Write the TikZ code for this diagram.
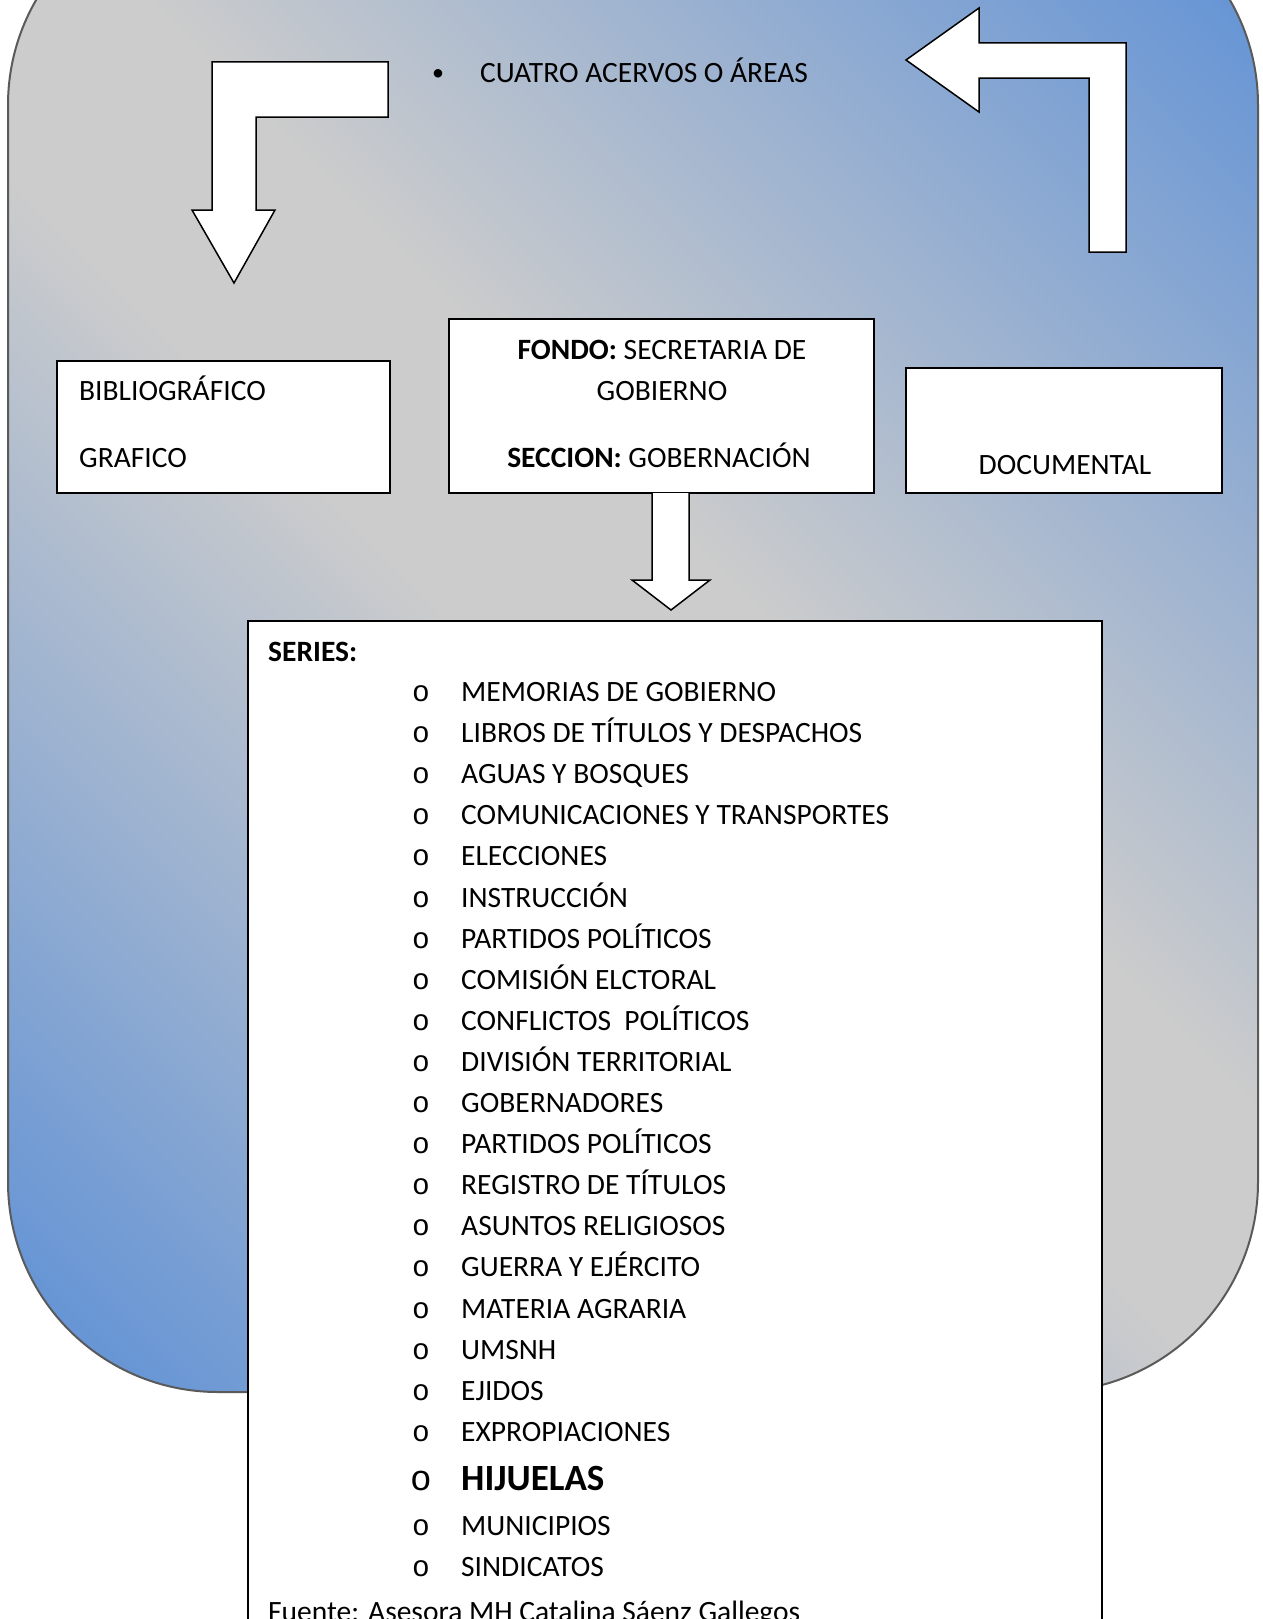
\documentclass[tikz,border=0pt]{standalone}
\usepackage{fontspec}
\setmainfont{Carlito}
\newfontfamily\monof{Liberation Mono}
\definecolor{bblue}{RGB}{93,144,214}
\definecolor{bgray}{RGB}{204,204,204}
\definecolor{edgegray}{RGB}{90,90,90}
\pgfdeclarehorizontalshading{bgshade}{100bp}{color(0bp)=(bblue); color(15bp)=(bblue); color(46bp)=(bgray); color(54bp)=(bgray); color(85bp)=(bblue); color(100bp)=(bblue)}
\begin{document}
\begin{tikzpicture}[x=1pt,y=-1pt,
  blockarrow/.style={fill=white,draw=black,line width=1.5pt,line join=miter},
  box/.style={draw=black,fill=white,line width=2pt,inner sep=0pt},
  txt/.style={inner sep=0pt,font=\fontsize{29.5}{35}\selectfont},
  bul/.style={inner sep=0pt,font=\monof\fontsize{29.5}{35}\selectfont}]
\useasboundingbox (0,0) rectangle (1262,1619);
% background rounded panel
\shadedraw[shading=bgshade, shading angle=45, draw=edgegray, line width=2pt, rounded corners=210pt] (8,-105) rectangle (1258,1392);
% bent arrows
\draw[blockarrow] (388,62) -- (212,62) -- (212,210) -- (192,210) -- (234,283) -- (275,210) -- (256,210) -- (256,117) -- (388,117) -- cycle;
\draw[blockarrow] (1126,43) -- (979,43) -- (979,8) -- (906,60) -- (979,112) -- (979,78) -- (1089,78) -- (1089,252) -- (1126,252) -- cycle;
% top label
\node[inner sep=0pt, anchor=base, font=\fontsize{24}{28}\selectfont] (dot) at (438,81) {•};
\node[txt, anchor=base west] (cuatro) at (480,82) {CUATRO ACERVOS O ÁREAS};
% boxes
\node[box, minimum width=333pt, minimum height=132pt] (biblio) at (223.5,427) {};
\node[box, minimum width=425pt, minimum height=174pt] (fondo) at (661.5,406) {};
\node[box, minimum width=316pt, minimum height=125pt] (docum) at (1064,430.5) {};
\node[txt, anchor=base west] (tbib) at (79,400) {BIBLIOGRÁFICO};
\node[txt, anchor=base west] (tgraf) at (79,467) {GRAFICO};
\node[txt, anchor=base] (tf1) at (662,359) {\textbf{FONDO:} SECRETARIA DE};
\node[txt, anchor=base] (tf2) at (662,400) {GOBIERNO};
\node[txt, anchor=base] (tf3) at (659,467) {\textbf{SECCION:} GOBERNACIÓN};
\node[txt, anchor=base] (tdoc) at (1065,474) {DOCUMENTAL};
% down arrow
\coordinate (dl) at (652,493);
\coordinate (dr) at (689,493);
\draw[blockarrow] (dl) -- (652,580) -- (632,580) -- (671,610) -- (710,580) -- (689,580) -- (dr);
% series box
\node[draw=black, fill=white, line width=2.5pt, inner sep=0pt, minimum width=854pt, minimum height=1081pt] (series) at (675,1161.5) {};
\node[txt, anchor=base west] (tser) at (268,661) {\textbf{SERIES:}};
\foreach \t [count=\i from 0] in {MEMORIAS DE GOBIERNO, LIBROS DE TÍTULOS Y DESPACHOS, AGUAS Y BOSQUES, COMUNICACIONES Y TRANSPORTES, ELECCIONES, INSTRUCCIÓN, PARTIDOS POLÍTICOS, COMISIÓN ELCTORAL, CONFLICTOS\ \ POLÍTICOS, DIVISIÓN TERRITORIAL, GOBERNADORES, PARTIDOS POLÍTICOS, REGISTRO DE TÍTULOS, ASUNTOS RELIGIOSOS, GUERRA Y EJÉRCITO, MATERIA AGRARIA, UMSNH, EJIDOS, EXPROPIACIONES}{
  \node[bul, anchor=base] (b\i) at (421,701.5+41.1*\i) {o};
  \node[txt, anchor=base west] (it\i) at (461,701.5+41.1*\i) {\t};
}
\node[inner sep=0pt, anchor=base, font=\monof\fontsize{36}{40}\selectfont] (bh) at (421,1490) {o};
\node[inner sep=0pt, anchor=base west, font=\bfseries\fontsize{37}{42}\selectfont] (hij) at (461,1490) {HIJUELAS};
\node[bul, anchor=base] (bm) at (421,1535) {o};
\node[txt, anchor=base west] (mun) at (461,1535) {MUNICIPIOS};
\node[bul, anchor=base] (bs) at (421,1576) {o};
\node[txt, anchor=base west] (sin) at (461,1576) {SINDICATOS};
\node[txt, anchor=base west] (fuente) at (268,1621) {Fuente: Asesora MH Catalina Sáenz Gallegos};
\end{tikzpicture}
\end{document}
